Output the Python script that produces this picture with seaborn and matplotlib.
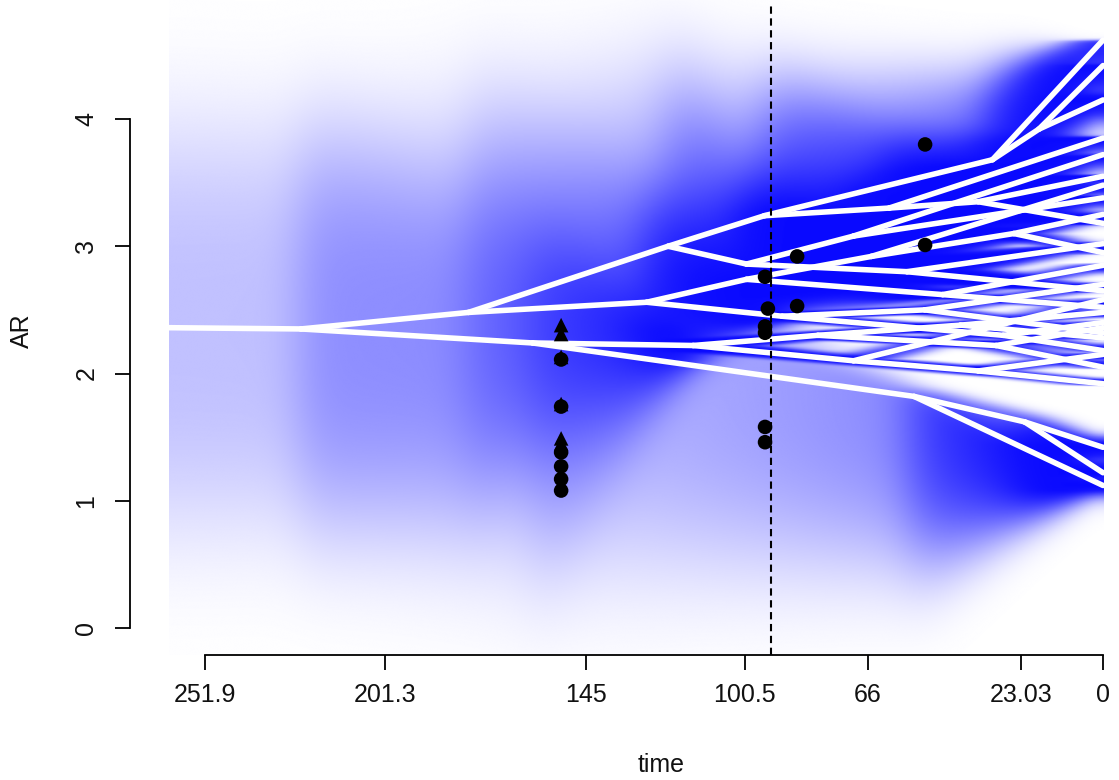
import numpy as np
import pandas as pd
import matplotlib
matplotlib.use("Agg")
import matplotlib.pyplot as plt
import seaborn as sns
from matplotlib.colors import LinearSegmentedColormap

# ---------------- data ----------------
# internal nodes: age (time before present), reconstructed AR value,
# uncertainty below (sd_lo) and above (sd_hi) the estimate
node_name = ["R", "A", "B", "C", "C1", "C2", "C3", "C4", "C5", "C6", "C7", "C8",
             "D", "D1", "D2", "D3", "D4", "D5", "D6", "D7",
             "E", "F", "F1", "F2", "F3", "F4", "F5", "G", "G1"]
node_time = [262.0, 225.0, 178.0, 122.0, 95.0, 31.0, 18.0, 60.0, 35.0, 100.0, 70.0, 55.0,
             128.0, 100.0, 65.0, 45.0, 90.0, 50.0, 28.0, 25.0,
             160.0, 115.0, 80.0, 70.0, 40.0, 30.0, 35.0, 53.0, 22.0]
node_value = [2.36, 2.35, 2.48, 3.00, 3.24, 3.68, 3.92, 3.30, 3.35, 2.86, 3.08, 2.80,
              2.56, 2.74, 2.92, 2.62, 2.45, 2.50, 2.30, 3.10,
              2.24, 2.22, 2.30, 2.10, 2.38, 2.22, 2.02, 1.82, 1.62]
node_sd_lo = [1.00, 0.98, 0.92, 0.45, 0.35, 0.20, 0.15, 0.20, 0.10, 0.25, 0.20, 0.05,
              0.32, 0.20, 0.08, 0.012, 0.012, 0.012, 0.012, 0.02,
              1.10, 0.02, 0.012, 0.012, 0.012, 0.012, 0.012, 0.80, 0.40]
node_sd_hi = [1.00, 0.98, 1.00, 0.85, 0.64, 0.40, 0.30, 0.33, 0.12, 0.45, 0.25, 0.06,
              0.55, 0.36, 0.12, 0.012, 0.012, 0.012, 0.012, 0.02,
              0.60, 0.02, 0.012, 0.012, 0.012, 0.012, 0.012, 0.05, 0.04]

# tips (present day, observed values)
tip_name = ["t%d" % i for i in range(1, 30)]
tip_value = [4.62, 4.42, 4.15, 3.85, 3.55, 3.18, 3.72, 3.38, 3.02, 2.65,
             3.48, 3.25, 2.95, 2.85, 2.52, 2.70, 2.32, 2.40, 2.18,
             2.48, 2.28, 2.36, 2.05, 2.58, 2.15, 1.92, 1.12, 1.22, 1.42]

edge_parent = ["R", "A", "A", "B", "B", "C", "C", "C1", "C1", "C2", "C2", "C3", "C3",
               "C4", "C4", "C5", "C5", "C6", "C6", "C7", "C7", "C8", "C8",
               "D", "D", "D1", "D1", "D2", "D2", "D7", "D7", "D3", "D3",
               "D4", "D4", "D5", "D5", "D6", "D6",
               "E", "E", "F", "F", "F1", "F1", "F3", "F3", "F4", "F4",
               "F2", "F2", "F5", "F5", "G", "G", "G1", "G1"]
edge_child = ["A", "B", "E", "C", "D", "C1", "C6", "C2", "C4", "t1", "C3", "t2", "t3",
              "t4", "C5", "t5", "t6", "C7", "C8", "t7", "t8", "t9", "t10",
              "D1", "D4", "D2", "D3", "t11", "D7", "t12", "t13", "t14", "t15",
              "D5", "D6", "t16", "t17", "t18", "t19",
              "F", "G", "F1", "F2", "F3", "F4", "t20", "t21", "t22", "t23",
              "F5", "t24", "t25", "t26", "t27", "G1", "t28", "t29"]

# fossil observations
fossil_time = [152.0, 152.0, 152.0, 152.0, 152.0, 152.0,
               152.0, 152.0, 152.0, 152.0, 152.0, 152.0,
               94.8, 94.0, 94.8, 94.8, 94.8, 94.8,
               85.8, 85.8, 49.9, 49.9]
fossil_value = [2.11, 1.74, 1.38, 1.27, 1.17, 1.08,
                2.38, 2.31, 2.13, 1.76, 1.49, 1.45,
                2.76, 2.51, 2.37, 2.32, 1.58, 1.46,
                2.92, 2.53, 3.80, 3.01]
fossil_kind = ["circle"] * 6 + ["triangle"] * 6 + ["circle"] * 10

xtick_values = [251.9, 201.3, 145, 100.5, 66, 23.03, 0]
xtick_labels = ["251.9", "201.3", "145", "100.5", "66", "23.03", "0"]
ytick_values = [0, 1, 2, 3, 4]
boundary_time = 93.1

# ---------------- figure ----------------
sns.set_style("ticks")
plt.rcParams["font.family"] = ["Liberation Sans", "DejaVu Sans"]

fig = plt.figure(figsize=(11.19, 7.80), dpi=100)
ax = fig.add_axes([130 / 1119, (780 - 655) / 780, (1119 - 130) / 1119, 655 / 780])

all_names = node_name + tip_name
nt = dict(zip(all_names, node_time + [0.0] * len(tip_name)))
nv = dict(zip(all_names, node_value + tip_value))
nlo = dict(zip(all_names, node_sd_lo + [0.0] * len(tip_name)))
nhi = dict(zip(all_names, node_sd_hi + [0.0] * len(tip_name)))

# uncertainty band around every branch
tgrid = np.linspace(0, max(node_time), 1500)
vgrid = np.linspace(-0.3, 5.0, 1100)
dens = np.zeros((len(vgrid), len(tgrid)))
shape_a, shape_g = 1.6, 0.8930
for p, c in zip(edge_parent, edge_child):
    tp, tc = nt[p], nt[c]
    m = (tgrid >= tc) & (tgrid <= tp)
    f = (tp - tgrid[m]) / (tp - tc)
    mu = nv[p] + (nv[c] - nv[p]) * f
    slo = np.maximum(nlo[p] + (nlo[c] - nlo[p]) * f, 0.008)
    shi = np.maximum(nhi[p] + (nhi[c] - nhi[p]) * f, 0.008)
    diff = vgrid[:, None] - mu[None, :]
    s = np.where(diff > 0, shi[None, :], slo[None, :])
    z = np.abs(diff) / s
    k = np.exp(-np.minimum(z / shape_a, 10.0) ** 3)
    dens[:, m] += k / (shape_a * shape_g * (slo + shi)[None, :])

# cap the narrow spikes, then soften the steps at the nodes along the time axis
dens = np.minimum(dens, 4.0)
dt = tgrid[1] - tgrid[0]
sig = 6.0 / dt
half = int(3 * sig)
kern = np.exp(-0.5 * (np.arange(-half, half + 1) / sig) ** 2)
kern /= kern.sum()
padded = np.pad(dens, ((0, 0), (half, half)), mode="reflect")
dens = np.array([np.convolve(row, kern, mode="valid") for row in padded])

alpha = 1 - np.exp(-0.8 * dens)

cmap = LinearSegmentedColormap.from_list("wb", ["#ffffff", "#0000ff"])
ax.imshow(alpha, extent=[tgrid[0], tgrid[-1], vgrid[0], vgrid[-1]], origin="lower",
          aspect="auto", cmap=cmap, vmin=0, vmax=1, interpolation="bilinear", zorder=1)

# tree branches (phenogram) in white
rows = []
for i, (p, c) in enumerate(zip(edge_parent, edge_child)):
    rows.append({"edge": i, "time": nt[p], "value": nv[p]})
    rows.append({"edge": i, "time": nt[c], "value": nv[c]})
edges_df = pd.DataFrame(rows)
sns.lineplot(data=edges_df, x="time", y="value", units="edge", estimator=None,
             color="white", lw=4.0, sort=False, ax=ax, legend=False, zorder=3,
             solid_capstyle="round")

# fossil points
fossil_df = pd.DataFrame({"time": fossil_time, "value": fossil_value, "kind": fossil_kind})
sns.scatterplot(data=fossil_df, x="time", y="value", style="kind",
                markers={"circle": "o", "triangle": "^"}, color="black", s=110,
                linewidth=0, legend=False, ax=ax, zorder=4)

ax.axvline(boundary_time, ymin=0, ymax=0.992, color="black", lw=1.5,
           ls=(0, (3.5, 2.2)), zorder=5)

# axes in R style
ax.set_xlim((1103 - 130) / 3.565, (1103 - 1119) / 3.565)
ax.set_ylim((628 - 655) / 127.25, 628 / 127.25)
sns.despine(ax=ax)
ax.spines["left"].set_bounds(0, 4)
ax.spines["bottom"].set_bounds(0, 251.9)
for sp in ["left", "bottom"]:
    ax.spines[sp].set_linewidth(1.3)
    ax.spines[sp].set_color("black")
ax.set_xticks(xtick_values)
ax.set_xticklabels(xtick_labels)
ax.set_yticks(ytick_values)
ax.set_yticklabels([str(v) for v in ytick_values])
ax.tick_params(axis="both", direction="out", length=10.8, width=1.3, color="black",
               labelsize=18, labelcolor="#111111")
ax.tick_params(axis="x", pad=9)
ax.tick_params(axis="y", pad=12, labelrotation=90)
for lab in ax.get_yticklabels():
    lab.set_va("center")
ax.set_facecolor("white")
ax.grid(False)

ax.set_xlabel("time", fontsize=18, color="#111111", va="center")
ax.set_ylabel("AR", fontsize=18, color="#111111", va="center")
ax.xaxis.set_label_coords((661 - 130) / 989, (655 - 765) / 655)
ax.yaxis.set_label_coords((22 - 130) / 989, (655 - 331) / 655)

fig.savefig("out.png", dpi=100, facecolor="white")
